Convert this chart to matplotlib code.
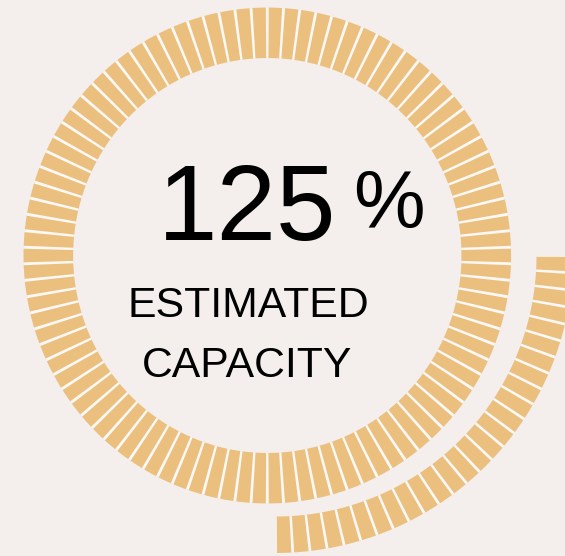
import numpy as np
import matplotlib.pyplot as plt

# gauge values
capacity = 125                 # percent shown in the middle
ring_pct = [100, 25]           # inner ring is full, outer ring is the overflow
ring_segments = [94, 27]       # segments drawn in each ring
label_lines = ["ESTIMATED", "CAPACITY"]

W, H = 565, 556
bg = "#f4efed"
seg_color = "#ebc07f"
gap_color = "#fbf8f6"
gap_px = 2.6

plt.rcParams['font.family'] = ['Liberation Sans', 'DejaVu Sans']

fig = plt.figure(figsize=(W / 100, H / 100), dpi=100)
fig.patch.set_facecolor(bg)


def ring_axes(cx, cy, rmax, sx=1.0, sy=1.0):
    # polar axes centred on pixel (cx, cy), r measured in (roughly) pixels
    w, h = 2 * rmax * sx, 2 * rmax * sy
    ax = fig.add_axes([(cx - w / 2) / W, 1 - (cy + h / 2) / H, w / W, h / H],
                      projection='polar')
    ax.set_aspect('auto')
    ax.set_theta_zero_location('N')
    ax.set_theta_direction(-1)
    ax.set_ylim(0, rmax)
    ax.set_axis_off()
    ax.patch.set_alpha(0)
    return ax


def draw_ring(ax, start_deg, pct, nseg, r_in, r_out):
    span = np.deg2rad(360 * pct / 100)
    step = span / nseg
    theta = np.deg2rad(start_deg) + step * (np.arange(nseg) + 0.5)
    gap = gap_px / ((r_in + r_out) / 2)
    # light strip underneath so the gaps read whiter than the page
    inner_gap = gap * 0.35
    ax.bar(np.deg2rad(start_deg) + span / 2, r_out - r_in - 1.2,
           width=span - inner_gap, bottom=r_in + 0.6,
           color=gap_color, linewidth=0)
    ax.bar(theta, r_out - r_in, width=step - gap, bottom=r_in,
           color=seg_color, linewidth=0)


inner = ring_axes(267.3, 255.5, 260, sx=0.993, sy=1.010)
draw_ring(inner, 0, ring_pct[0], ring_segments[0], 195.5, 245.5)

# overflow ring, quarter turn from 3 o'clock down to 6 o'clock
outer = ring_axes(275.5, 255.5, 305)
draw_ring(outer, 90, ring_pct[1], ring_segments[1], 261.0, 297.5)

# text layer in pixel coordinates
tx = fig.add_axes([0, 0, 1, 1])
tx.set_xlim(0, W)
tx.set_ylim(H, 0)
tx.set_axis_off()
tx.patch.set_alpha(0)

tx.text(247, 240, f"{capacity}", fontsize=77, ha='center', va='baseline',
        color='black')
tx.text(389, 228, "%", fontsize=58, ha='center', va='baseline', color='black')
tx.text(248, 317, label_lines[0], fontsize=30.8, ha='center', va='baseline',
        color='black')
tx.text(247, 377, label_lines[1], fontsize=30.8, ha='center', va='baseline',
        color='black')

fig.savefig("out.png", dpi=100, facecolor=bg)
